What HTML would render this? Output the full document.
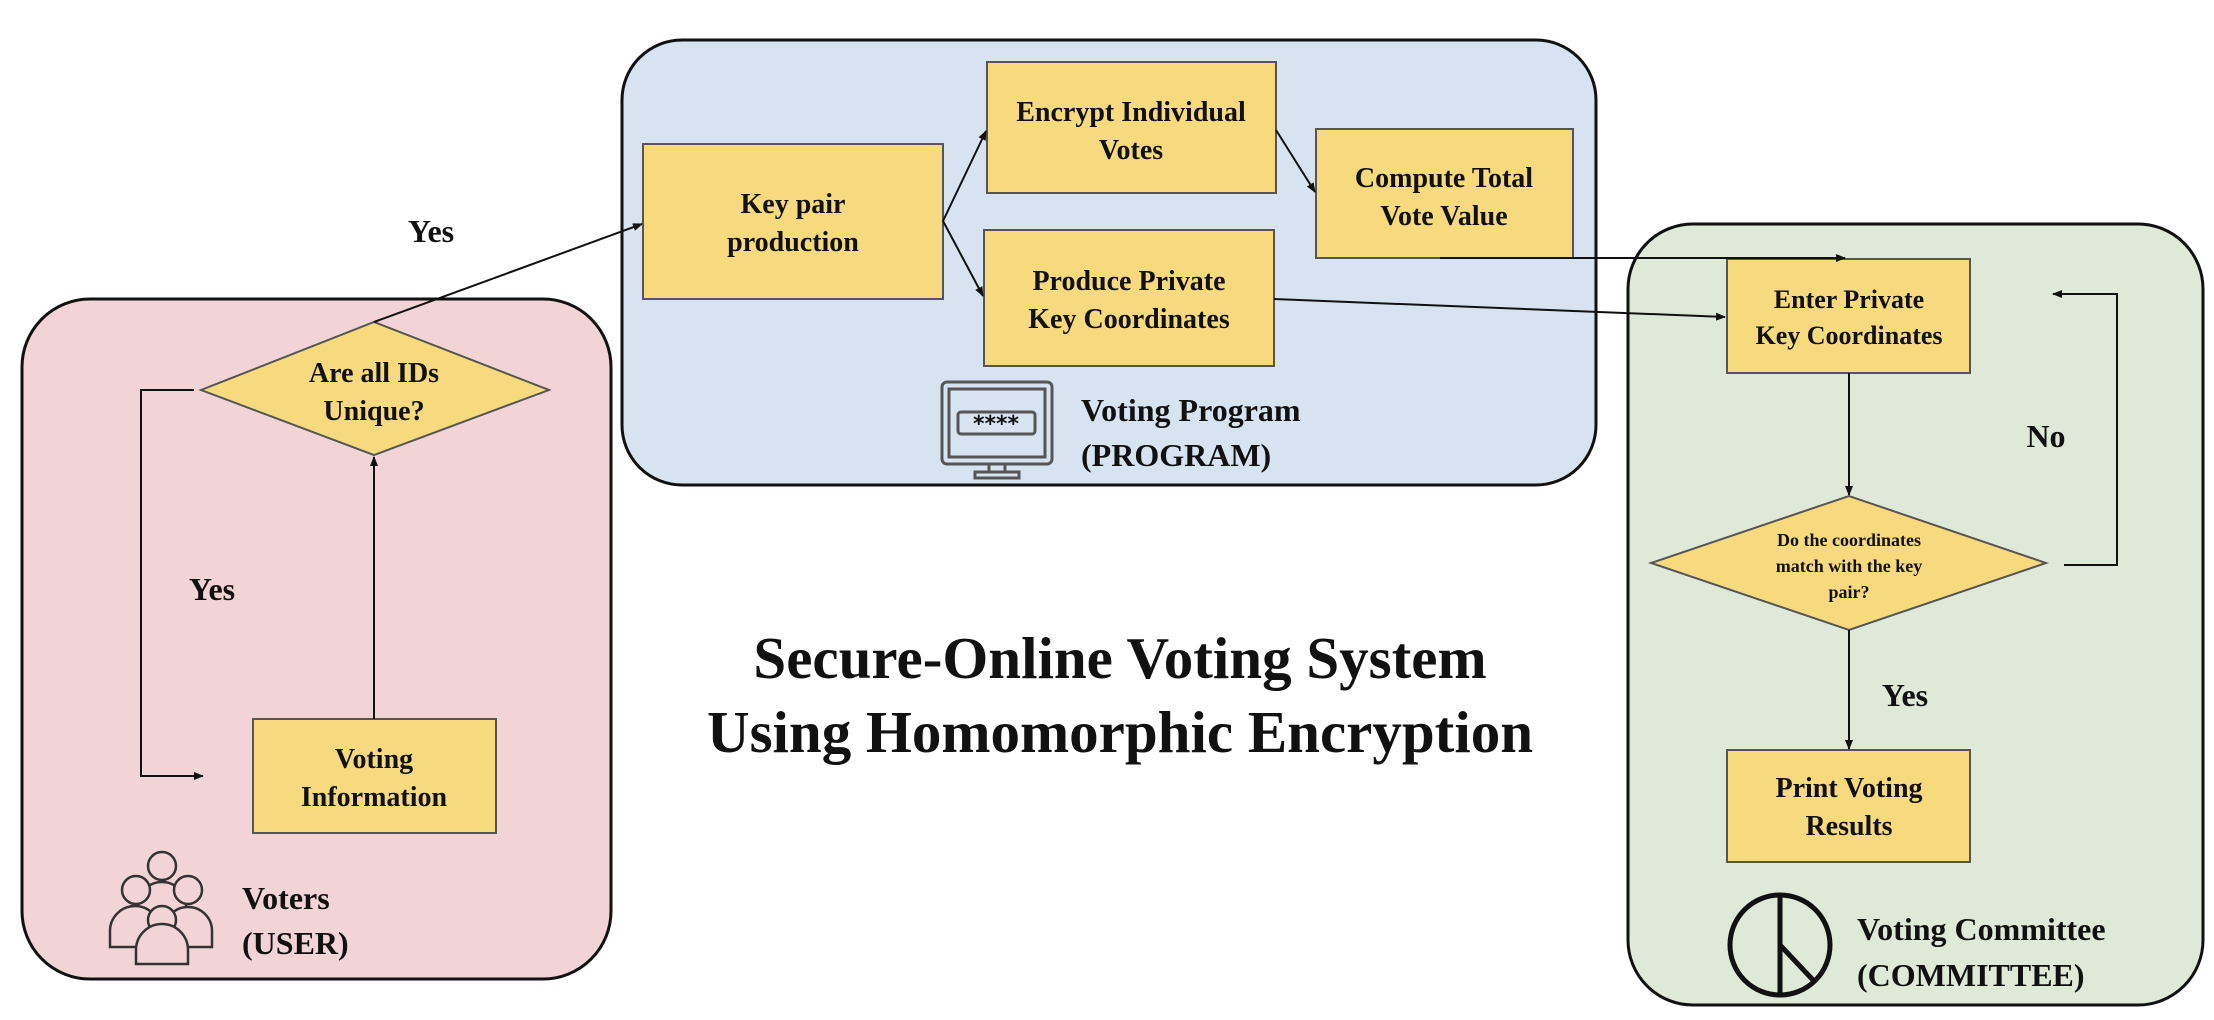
<!DOCTYPE html>
<html><head><meta charset="utf-8"><style>
html,body{margin:0;padding:0;background:#fff;}
svg{display:block;}
text{font-family:"Liberation Serif",serif;font-weight:bold;fill:#111;}
</style></head><body>
<svg width="2214" height="1020" viewBox="0 0 2214 1020" xmlns="http://www.w3.org/2000/svg">
<defs>
<marker id="a" markerWidth="10" markerHeight="8" refX="9" refY="4" orient="auto" markerUnits="userSpaceOnUse"><path d="M0,0 L10,4 L0,8 z" fill="#111"/></marker>
</defs>
<rect x="22" y="299" width="589" height="680" rx="68" fill="#f2d4d6" stroke="#111" stroke-width="3"/>
<rect x="622" y="40" width="974" height="445" rx="60" fill="#d7e3f1" stroke="#111" stroke-width="3"/>
<rect x="1628" y="224" width="575" height="781" rx="65" fill="#dfe9d8" stroke="#111" stroke-width="3"/>

<g fill="#f7d97e" stroke="#555" stroke-width="2">
<rect x="643" y="144" width="300" height="155"/>
<rect x="987" y="62" width="289" height="131"/>
<rect x="1316" y="129" width="257" height="129"/>
<rect x="984" y="230" width="290" height="136"/>
<rect x="253" y="719" width="243" height="114"/>
<rect x="1727" y="259" width="243" height="114"/>
<rect x="1727" y="750" width="243" height="112"/>
<polygon points="201,390 374,322 549,390 374,455"/>
<polygon points="1651,563 1849,496 2046,563 1849,630"/>
</g>

<g stroke="#111" stroke-width="2" fill="none" marker-end="url(#a)">
<line x1="374" y1="322" x2="642" y2="224"/>
<line x1="374" y1="719" x2="374" y2="457"/>
<polyline points="194,390 141,390 141,776 203,776"/>
<line x1="943" y1="221" x2="986" y2="131"/>
<line x1="943" y1="221" x2="983" y2="296"/>
<line x1="1276" y1="130" x2="1315" y2="192"/>
<polyline points="1440,258 1845,258"/>
<line x1="1274" y1="299" x2="1725" y2="317"/>
<line x1="1849" y1="373" x2="1849" y2="495"/>
<polyline points="2064,565 2117,565 2117,294 2053,294"/>
<line x1="1849" y1="630" x2="1849" y2="749"/>
</g>

<g font-size="28" text-anchor="middle">
<text x="793" y="213">Key pair</text><text x="793" y="251">production</text>
<text x="1131" y="121">Encrypt Individual</text><text x="1131" y="159">Votes</text>
<text x="1444" y="187">Compute Total</text><text x="1444" y="225">Vote Value</text>
<text x="1129" y="290">Produce Private</text><text x="1129" y="328">Key Coordinates</text>
<text x="374" y="768">Voting</text><text x="374" y="806">Information</text>
<text x="374" y="382">Are all IDs</text><text x="374" y="420">Unique?</text>
<text x="1849" y="308" font-size="26">Enter Private</text><text x="1849" y="344" font-size="26">Key Coordinates</text>
<text x="1849" y="797">Print Voting</text><text x="1849" y="835">Results</text>
</g>
<g font-size="18" text-anchor="middle">
<text x="1849" y="546">Do the coordinates</text>
<text x="1849" y="572">match with the key</text>
<text x="1849" y="598">pair?</text>
</g>
<g font-size="32" text-anchor="middle">
<text x="431" y="242">Yes</text>
<text x="212" y="600">Yes</text>
<text x="2046" y="447">No</text>
<text x="1905" y="706">Yes</text>
</g>
<g font-size="32">
<text x="1081" y="421">Voting Program</text><text x="1081" y="466">(PROGRAM)</text>
<text x="242" y="909">Voters</text><text x="242" y="954">(USER)</text>
<text x="1857" y="940">Voting Committee</text><text x="1857" y="986">(COMMITTEE)</text>
</g>
<g font-size="59" text-anchor="middle">
<text x="1120" y="678">Secure-Online Voting System</text>
<text x="1120" y="752">Using Homomorphic Encryption</text>
</g>

<g stroke="#555" fill="none" stroke-width="3">
<rect x="942" y="382" width="110" height="82" rx="5"/>
<rect x="949" y="389" width="96" height="68"/>
<rect x="958" y="412" width="77" height="22" rx="3"/>
<line x1="989" y1="464" x2="989" y2="472"/><line x1="1005" y1="464" x2="1005" y2="472"/>
<rect x="975" y="472" width="44" height="6"/>
</g>
<text x="996" y="431" font-size="22" text-anchor="middle" fill="#444" style="font-family:'DejaVu Sans',sans-serif">****</text>

<g stroke="#333" fill="#f2d4d6" stroke-width="2.5">
<circle cx="162" cy="866" r="14"/><path d="M138,922 v-16 a24,24 0 0 1 48,0 v16 z"/>
<circle cx="188" cy="890" r="14"/><path d="M164,947 v-16 a24,24 0 0 1 48,0 v16 z"/>
<circle cx="136" cy="890" r="14"/><path d="M110,947 v-16 a25,25 0 0 1 50,0 v16 z"/>
<circle cx="162" cy="920" r="14"/><path d="M136,964 v-14 a26,26 0 0 1 52,0 v14 z"/>
</g>

<g stroke="#111" stroke-width="5" fill="none">
<circle cx="1780" cy="945" r="50"/>
<line x1="1780" y1="895" x2="1780" y2="995"/>
<line x1="1780" y1="945" x2="1813" y2="980"/>
</g>
</svg>
</body></html>
